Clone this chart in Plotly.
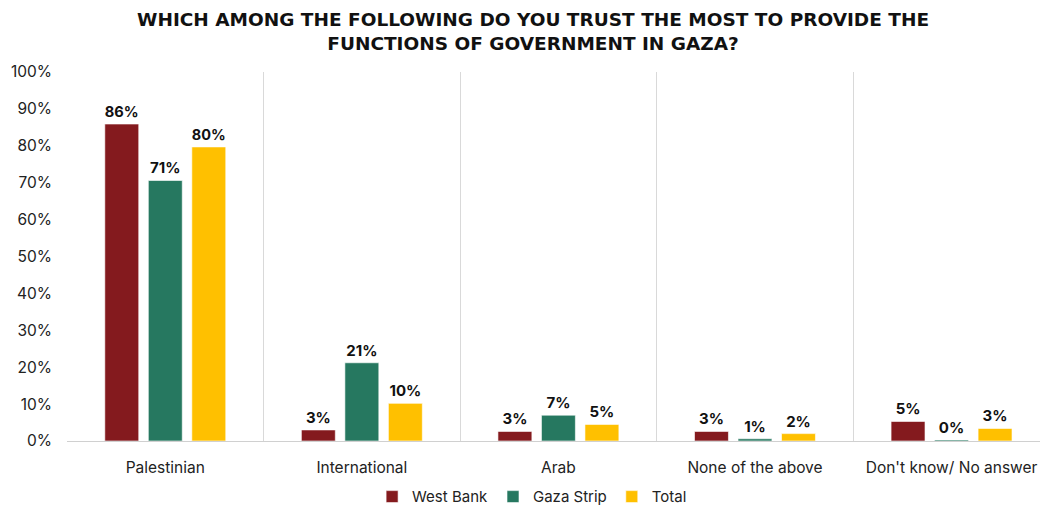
import plotly.graph_objects as go

categories = ["Palestinian", "International", "Arab", "None of the above", "Don't know/ No answer"]
west_bank = [85.9, 3.0, 2.6, 2.6, 5.3]
gaza_strip = [70.6, 21.2, 7.0, 0.6, 0.3]
total = [79.7, 10.2, 4.5, 2.0, 3.4]
y_ticks = [0, 10, 20, 30, 40, 50, 60, 70, 80, 90, 100]
y_tick_labels = [f"{v}%" for v in y_ticks]

series = [
    ("West Bank", west_bank, "#841a1e"),
    ("Gaza Strip", gaza_strip, "#267860"),
    ("Total", total, "#ffc000"),
]

FONT = "Inter, Roboto, Arial, sans-serif"
TITLE = "WHICH AMONG THE FOLLOWING DO YOU TRUST THE MOST TO PROVIDE THE<br>FUNCTIONS OF GOVERNMENT IN GAZA?"

fig = go.Figure()
for name, vals, color in series:
    fig.add_trace(go.Bar(
        name=name,
        x=categories,
        y=vals,
        marker=dict(color=color, line=dict(color="rgba(255,255,255,0.6)", width=1)),
        texttemplate="<b>%{y:.0f}%</b>",
        textposition="outside",
        textfont=dict(size=15, color="#111111", family=FONT),
        cliponaxis=False,
    ))

# Chart title drawn as a paper annotation above the plot area
fig.add_annotation(
    text=f"<b>{TITLE}</b>",
    xref="paper", yref="paper",
    x=0.479, y=1.111,
    xanchor="center", yanchor="middle",
    showarrow=False,
    align="center",
    font=dict(family="DejaVu Sans, Arial, sans-serif", size=18.5, color="#111111"),
)

fig.update_layout(
    width=1040,
    height=507,
    margin=dict(l=67, r=0, t=72, b=66, autoexpand=False),
    paper_bgcolor="white",
    plot_bgcolor="white",
    barmode="group",
    bargap=0.336,
    bargroupgap=0.22,
    font=dict(family=FONT, size=15, color="#222222"),
    showlegend=True,
    legend=dict(
        orientation="h",
        x=0.478,
        xanchor="center",
        yref="container",
        y=0.02,
        yanchor="middle",
        font=dict(size=15, color="#222222"),
        itemwidth=30,
        traceorder="normal",
    ),
    xaxis=dict(
        type="category",
        range=[-0.5, 4.45],
        tickson="boundaries",
        showgrid=True,
        gridcolor="#d9d9d9",
        gridwidth=1,
        showline=True,
        linecolor="#d0d0d0",
        linewidth=1,
        ticks="",
        ticklabelstandoff=12,
        tickfont=dict(size=15.5, color="#222222"),
    ),
    yaxis=dict(
        range=[0, 100],
        tickmode="array",
        tickvals=y_ticks,
        ticktext=y_tick_labels,
        showgrid=False,
        zeroline=False,
        showline=False,
        ticks="",
        ticklabelstandoff=14,
        tickfont=dict(size=15.5, color="#222222"),
    ),
)

fig.write_html("out.html")
